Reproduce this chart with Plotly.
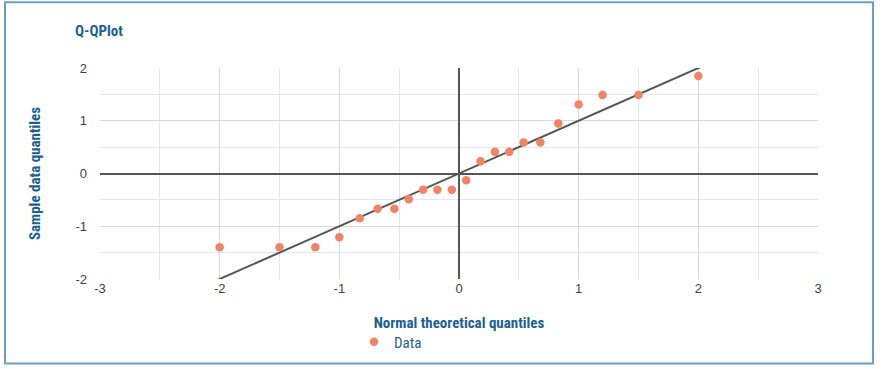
import plotly.graph_objects as go

# Data
theoretical_q = [-2.0, -1.5, -1.2, -1.0, -0.83, -0.68, -0.54, -0.42, -0.30, -0.18, -0.06,
                 0.06, 0.18, 0.30, 0.42, 0.54, 0.68, 0.83, 1.0, 1.2, 1.5, 2.0]
sample_q = [-1.4, -1.4, -1.4, -1.21, -0.85, -0.67, -0.67, -0.49, -0.31, -0.31, -0.31,
            -0.13, 0.23, 0.41, 0.41, 0.59, 0.59, 0.95, 1.31, 1.49, 1.49, 1.85]
ref_line_x = [-3, 3]
ref_line_y = [-3, 3]
x_ticks = [-3, -2, -1, 0, 1, 2, 3]
x_tick_labels = ["-3", "-2", "-1", "0", "1", "2", "3"]
y_ticks = [-2, -1, 0, 1, 2]
y_tick_labels = ["-2", "-1", "0", "1", "2"]

W, H = 884, 369
L, R, T, B = 100, 66, 68, 89
pw, ph = W - L - R, H - T - B

def px_x(p):
    return (p - L) / pw

def px_y(p):
    return (H - B - p) / ph

NARROW = "Roboto Condensed, Liberation Sans Narrow, Roboto, sans-serif"
BLUE = "#1d5f8f"

fig = go.Figure()
fig.add_trace(go.Scatter(x=ref_line_x, y=ref_line_y, mode="lines",
                         line=dict(color="#555555", width=2), showlegend=False,
                         hoverinfo="skip"))
fig.add_trace(go.Scatter(x=theoretical_q, y=sample_q, mode="markers", name="Data",
                         marker=dict(color="#ef8468", size=8.5)))

axis_common = dict(
    showgrid=True, gridcolor="#d9d9d9", gridwidth=1.3,
    zeroline=True, zerolinecolor="#555555", zerolinewidth=1.6,
    tickfont=dict(family="Liberation Sans, Arial, sans-serif", size=13, color="#3f3f3f"),
    showline=False, ticks="",
)

fig.update_layout(
    width=W, height=H,
    margin=dict(l=L, r=R, t=T, b=B),
    paper_bgcolor="white", plot_bgcolor="white",
    title=dict(text="<b>Q-QPlot</b>", x=75 / W, xref="container", xanchor="left",
               y=1 - 31 / H, yref="container", yanchor="middle",
               font=dict(family=NARROW, size=15, color=BLUE)),
    xaxis=dict(range=[-3, 3], tickvals=x_ticks, ticktext=x_tick_labels,
               minor=dict(dtick=0.5, showgrid=True, gridcolor="#e6e6e6", gridwidth=1.3),
               title=dict(text="<b>Normal theoretical quantiles</b>", standoff=22,
                          font=dict(family=NARROW, size=15, color=BLUE)),
               **axis_common),
    yaxis=dict(range=[-2, 2], tickvals=y_ticks, ticktext=y_tick_labels,
               minor=dict(dtick=0.5, showgrid=True, gridcolor="#e6e6e6", gridwidth=1.3),
               title=dict(text="<b>Sample data quantiles</b>", standoff=31,
                          font=dict(family=NARROW, size=15, color=BLUE)),
               ticklabelstandoff=12,
               **axis_common),
    legend=dict(orientation="h", x=px_x(354), xanchor="left", y=px_y(342), yanchor="middle",
                font=dict(family=NARROW, size=15, color=BLUE),
                bgcolor="rgba(0,0,0,0)"),
    shapes=[dict(type="rect", xref="paper", yref="paper",
                 x0=px_x(5), x1=px_x(873), y0=px_y(365), y1=px_y(2),
                 line=dict(color="#6b9ec0", width=2), layer="below")],
)

fig.write_html("out.html", config={"displayModeBar": False},
               post_script="document.body.style.margin='0';document.body.style.overflow='hidden';")
